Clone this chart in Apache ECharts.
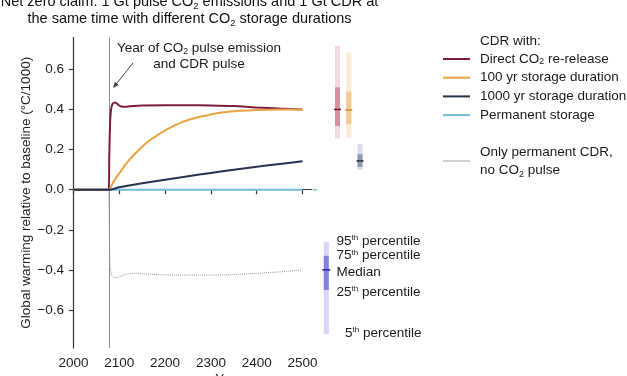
<!DOCTYPE html>
<html><head><meta charset="utf-8">
<script src="https://cdn.jsdelivr.net/npm/echarts@6/dist/echarts.min.js"></script>
<style>html,body{margin:0;padding:0;background:#fff}#c{width:627px;height:376px}</style>
</head><body><div id="c"></div>
<script>
const FONT = '"Liberation Sans", Arial, Helvetica, sans-serif';
const pulseYear = 2077;
const xTicks = [2000, 2100, 2200, 2300, 2400, 2500];
const yTicks = [-0.6, -0.4, -0.2, 0, 0.2, 0.4, 0.6];

const seriesNames = ['Direct CO2 re-release', '100 yr storage duration', '1000 yr storage duration', 'Permanent storage'];
const greyName = 'Only permanent CDR,\nno CO2 pulse';

const redYears = [2000, 2077, 2078, 2080, 2082, 2085, 2090, 2095, 2100, 2108, 2116, 2130, 2150, 2200, 2250, 2300, 2350, 2400, 2450, 2500];
const redValues = [0, 0, 0.16, 0.34, 0.40, 0.428, 0.436, 0.43, 0.42, 0.414, 0.414, 0.418, 0.421, 0.422, 0.422, 0.421, 0.418, 0.411, 0.405, 0.40];

const orangeYears = [2000, 2077, 2085, 2094, 2101, 2115, 2131, 2150, 2167, 2185, 2203, 2220, 2240, 2258, 2276, 2300, 2342, 2400, 2450, 2500];
const orangeValues = [0, 0, 0.03, 0.064, 0.085, 0.13, 0.172, 0.215, 0.248, 0.275, 0.30, 0.32, 0.34, 0.353, 0.364, 0.376, 0.39, 0.398, 0.401, 0.40];

const navyYears = [2000, 2077, 2100, 2150, 2200, 2250, 2300, 2350, 2400, 2450, 2500];
const navyValues = [0, 0, 0.012, 0.032, 0.05, 0.067, 0.084, 0.1, 0.115, 0.129, 0.142];

const blueYears = [2000, 2077, 2500];
const blueValues = [0, 0, 0];

const greyYears = [2077, 2078, 2080, 2083, 2087, 2093, 2100, 2110, 2125, 2140, 2160, 2200, 2250, 2300, 2350, 2400, 2450, 2500];
const greyValues = [0, -0.2, -0.38, -0.425, -0.438, -0.44, -0.435, -0.425, -0.418, -0.417, -0.421, -0.425, -0.426, -0.426, -0.423, -0.417, -0.41, -0.40];

// percentile bars (right of plot)
const barCats = ['Permanent storage', 'Example', 'Direct CO2 re-release', '100 yr storage duration', '1000 yr storage duration'];
const p5  = [0, -0.72, 0.256, 0.26, 0.098];
const p25 = [0, -0.50, 0.318, 0.327, 0.114];
const p50 = [0, -0.40, 0.401, 0.398, 0.144];
const p75 = [0, -0.33, 0.511, 0.49, 0.177];
const p95 = [0, -0.26, 0.717, 0.684, 0.228];

const barStyles = [
  {light: 'rgba(0,0,0,0)', mid: 'rgba(0,0,0,0)', dark: '#8cc6de', mw: 4.5},
  {light: '#d6d6fa', mid: '#7f7fe6', dark: '#2d2d9c', mw: 8},
  {light: '#f2dce2', mid: '#d8909f', dark: '#7a1c3b', mw: 7},
  {light: '#fcebd4', mid: '#f4c98d', dark: '#d38f2f', mw: 7},
  {light: '#d8dde8', mid: '#8e99b0', dark: '#2a3450', mw: 7}
];

const zip = (xs, ys) => xs.map((x, i) => [x, ys[i]]);
const subFmt = s => s.replace(/CO2/g, 'CO{sub|2}');
const subRich = (fs) => ({sub: {fontSize: fs * 0.65, fontFamily: FONT, verticalAlign: 'bottom', fill: '#1a1a1a', color: '#1a1a1a'}});
const supRich = {sup: {fontSize: 8, verticalAlign: 'top', fontFamily: FONT, fill: '#1a1a1a'}};

const chart = echarts.init(document.getElementById('c'), null, {renderer: 'canvas'});

const axisTxt = {fontFamily: FONT, fontSize: 13.5, color: '#222'};

const option = {
  animation: false,
  backgroundColor: '#fff',
  grid: [
    {left: 73.5, top: 37.5, width: 238.2, height: 310.5, outerBoundsMode: 'none', containLabel: false},
    {left: 309.4, top: 37.5, width: 56.25, height: 310.5, outerBoundsMode: 'none', containLabel: false}
  ],
  xAxis: [
    {type: 'value', gridIndex: 0, min: 2000, max: 2520,
     axisLine: {show: true, lineStyle: {color: '#333', width: 1.2}},
     axisTick: {show: true, length: 4.5, customValues: xTicks, lineStyle: {color: '#333', width: 1.2}},
     axisLabel: Object.assign({customValues: xTicks, margin: 8, formatter: v => String(v)}, axisTxt),
     splitLine: {show: false}},
    {type: 'category', gridIndex: 1, data: barCats, show: false}
  ],
  yAxis: [
    {type: 'value', gridIndex: 0, min: -0.79, max: 0.76,
     name: 'Global warming relative to baseline (°C/1000)', nameLocation: 'middle', nameGap: 39,
     nameTextStyle: {fontFamily: FONT, fontSize: 13.5, color: '#222'},
     axisLine: {show: true, lineStyle: {color: '#333', width: 1.2}},
     axisTick: {show: true, length: 4.5, customValues: yTicks, lineStyle: {color: '#333', width: 1.2}},
     axisLabel: Object.assign({customValues: yTicks, margin: 9.5,
       formatter: v => (v < -1e-9 ? '\u2212' : '') + Math.abs(v).toFixed(1)}, axisTxt),
     splitLine: {show: false}},
    {type: 'value', gridIndex: 1, min: -0.79, max: 0.76, show: false}
  ],
  legend: [
    {left: 443, top: 52, padding: 0, orient: 'vertical', itemWidth: 27, itemHeight: 2, itemGap: 4.7, icon: 'rect',
     data: seriesNames,
     formatter: subFmt,
     textStyle: {fontFamily: FONT, fontSize: 13.5, color: '#1a1a1a', lineHeight: 14, padding: [0, 0, 0, 5], rich: subRich(13.5)}},
    {left: 443, top: 143, padding: 0, orient: 'vertical', itemWidth: 27, itemHeight: 2, icon: 'rect',
     data: [{name: greyName, itemStyle: {color: '#d2d2d2'}}],
     formatter: subFmt,
     textStyle: {fontFamily: FONT, fontSize: 13.5, color: '#1a1a1a', lineHeight: 18, padding: [0, 0, 0, 5], rich: subRich(13.5)}}
  ],
  series: [
    {name: seriesNames[3], type: 'line', xAxisIndex: 0, yAxisIndex: 0, data: zip(blueYears, blueValues),
     symbol: 'none', lineStyle: {color: '#72bcd9', width: 1.8}, itemStyle: {color: '#72bcd9'}, z: 2,
     markLine: {silent: true, symbol: 'none', label: {show: false}, z: 1,
       lineStyle: {color: '#8c8c8c', width: 1, type: 'solid'}, data: [{xAxis: pulseYear}]}},
    {name: greyName, type: 'line', xAxisIndex: 0, yAxisIndex: 0, data: zip(greyYears, greyValues),
     symbol: 'none', smooth: 0.2, lineStyle: {color: '#9a9a9a', width: 1, type: 'dotted'}, itemStyle: {color: '#d2d2d2'}, z: 2},
    {name: seriesNames[0], type: 'line', xAxisIndex: 0, yAxisIndex: 0, data: zip(redYears, redValues),
     symbol: 'none', smooth: 0.2, lineStyle: {color: '#7d1d3d', width: 2}, itemStyle: {color: '#7d1d3d'}, z: 3},
    {name: seriesNames[1], type: 'line', xAxisIndex: 0, yAxisIndex: 0, data: zip(orangeYears, orangeValues),
     symbol: 'none', smooth: 0.2, lineStyle: {color: '#e8a43f', width: 2}, itemStyle: {color: '#e8a43f'}, z: 4},
    {name: seriesNames[2], type: 'line', xAxisIndex: 0, yAxisIndex: 0, data: zip(navyYears, navyValues),
     symbol: 'none', smooth: 0.2, lineStyle: {color: '#28334f', width: 2}, itemStyle: {color: '#28334f'}, z: 5},
    {type: 'custom', xAxisIndex: 1, yAxisIndex: 1, clip: false, silent: true,
     data: barCats.map((c, i) => [i, p5[i], p25[i], p50[i], p75[i], p95[i]]),
     renderItem: (params, api) => {
       const i = api.value(0);
       const m = api.coord([i, api.value(3)]);
       const y5 = api.coord([i, api.value(1)])[1];
       const y25 = api.coord([i, api.value(2)])[1];
       const y75 = api.coord([i, api.value(4)])[1];
       const y95 = api.coord([i, api.value(5)])[1];
       const st = barStyles[params.dataIndex];
       const w = 5, mw = st.mw;
       return {type: 'group', children: [
         {type: 'rect', shape: {x: m[0] - w / 2, y: y95, width: w, height: y5 - y95}, style: {fill: st.light}},
         {type: 'rect', shape: {x: m[0] - w / 2, y: y75, width: w, height: y25 - y75}, style: {fill: st.mid}},
         {type: 'line', shape: {x1: m[0] - mw / 2, y1: m[1], x2: m[0] + mw / 2, y2: m[1]}, style: {stroke: st.dark, lineWidth: 1.6}}
       ]};
     }}
  ],
  graphic: [
    {type: 'text', x: 189.5, y: -6.5, style: {text: subFmt('Net zero claim: 1 Gt pulse CO2 emissions and 1 Gt CDR at\nthe same time with different CO2 storage durations'),
      font: '14.5px ' + FONT, fill: '#111', textAlign: 'center', lineHeight: 17, rich: subRich(14.5)}},
    {type: 'text', x: 480, y: 41, style: {text: 'CDR with:', font: '13.5px ' + FONT, fill: '#1a1a1a', textVerticalAlign: 'middle'}},
    {type: 'text', x: 199, y: 40, style: {text: subFmt('Year of CO2 pulse emission\nand CDR pulse'),
      font: '13.5px ' + FONT, fill: '#1a1a1a', textAlign: 'center', lineHeight: 16, rich: subRich(13.5)}},
    {type: 'line', shape: {x1: 133, y1: 63, x2: 115, y2: 85.5}, style: {stroke: '#444', lineWidth: 1}},
    {type: 'polygon', shape: {points: [[113, 88], [118.7, 84.9], [114.8, 81.75]]}, style: {fill: '#444'}},
    {type: 'text', x: 336.5, y: 241, style: {text: '95{sup|th} percentile', font: '13.5px ' + FONT, fill: '#1a1a1a', textVerticalAlign: 'middle', rich: supRich}},
    {type: 'text', x: 336.5, y: 255.5, style: {text: '75{sup|th} percentile', font: '13.5px ' + FONT, fill: '#1a1a1a', textVerticalAlign: 'middle', rich: supRich}},
    {type: 'text', x: 336.5, y: 272, style: {text: 'Median', font: '13.5px ' + FONT, fill: '#1a1a1a', textVerticalAlign: 'middle'}},
    {type: 'text', x: 336.5, y: 292, style: {text: '25{sup|th} percentile', font: '13.5px ' + FONT, fill: '#1a1a1a', textVerticalAlign: 'middle', rich: supRich}},
    {type: 'text', x: 345, y: 333, style: {text: '5{sup|th} percentile', font: '13.5px ' + FONT, fill: '#1a1a1a', textVerticalAlign: 'middle', rich: supRich}},
    {type: 'text', x: 229, y: 372, style: {text: 'Year', font: '13.5px ' + FONT, fill: '#1a1a1a', textAlign: 'center'}}
  ]
};
chart.setOption(option);
</script>
</body></html>
